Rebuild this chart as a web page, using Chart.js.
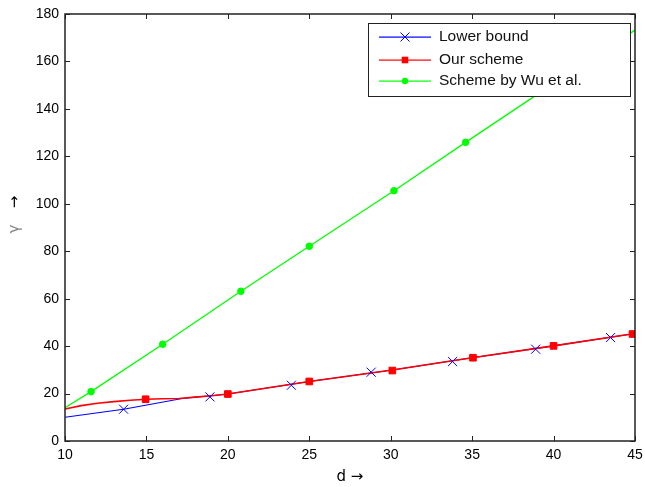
<!DOCTYPE html>
<html>
<head>
<meta charset="utf-8">
<script src="https://cdn.jsdelivr.net/npm/chart.js@4.4.1/dist/chart.umd.min.js"></script>
<style>
html,body{margin:0;padding:0;background:#fff;}
canvas{display:block;}
</style>
</head>
<body>
<canvas id="c" width="645" height="487"></canvas>
<script>
// ---- data ----
const seriesLabels = ['Lower bound', 'Our scheme', 'Scheme by Wu et al.'];
const xTickValues = [10, 15, 20, 25, 30, 35, 40, 45];
const yTickValues = [0, 20, 40, 60, 80, 100, 120, 140, 160, 180];
const xAxisTitle = 'd \u2192';
const yAxisSymbol = '\u03b3';
const yAxisArrow = '\u2192';

const lowerLineX = [10, 13.6, 17.2, 18, 19, 20, 25, 30, 35, 40, 45];
const lowerLineY = [10, 13.4, 17.9, 18.5, 19.1, 19.8, 25.1, 29.8, 35.1, 40.1, 45.3];
const lowerMarkX = [13.6, 18.9, 23.9, 28.8, 33.8, 38.9, 43.5];
const lowerMarkY = [13.4, 18.6, 23.5, 29.0, 33.5, 38.7, 43.6];

const oursLineX = [10, 11, 12, 13, 14, 15, 16, 17, 18, 19, 20, 25, 30, 35, 40, 45];
const oursLineY = [13.5, 14.9, 15.9, 16.6, 17.2, 17.6, 17.8, 17.9, 18.5, 19.1, 19.8, 25.1, 29.8, 35.1, 40.1, 45.3];
const oursMarkX = [14.95, 20, 25, 30.1, 35.05, 40, 44.85];
const oursMarkY = [17.6, 19.8, 25.1, 29.7, 35.1, 40.1, 45.1];

const wuLineX = [10, 11.6, 16, 20.8, 25, 30.2, 34.6, 39.3, 45];
const wuLineY = [14, 20.8, 40.8, 63.1, 82.1, 105.5, 125.9, 147.5, 173.2];
const wuMarkX = [11.6, 16, 20.8, 25, 30.2, 34.6, 39.3];
const wuMarkY = [20.8, 40.8, 63.1, 82.1, 105.5, 125.9, 147.5];

// ---- styling ----
const BLUE = '#0000ff', RED = '#ff0000', GREEN = '#00ff00';
const TICK_FONT = '"Liberation Sans", Arial, sans-serif';
const zip = (xs, ys) => xs.map((v, i) => ({x: v, y: ys[i]}));

function lineDs(label, xs, ys, color, width, order) {
  return {label, data: zip(xs, ys), borderColor: color, backgroundColor: color,
    borderWidth: width, pointRadius: 0, tension: 0, order, showLine: true};
}
function markDs(label, xs, ys, color, style, radius, order) {
  return {label, data: zip(xs, ys), borderColor: color, backgroundColor: color,
    showLine: false, pointStyle: style, pointRadius: radius, pointBorderWidth: 1,
    order};
}

const legendEntries = [
  {label: seriesLabels[0], color: BLUE, style: 'crossRot'},
  {label: seriesLabels[1], color: RED, style: 'rect'},
  {label: seriesLabels[2], color: GREEN, style: 'circle'}
];

function drawMarker(ctx, style, color, x, y) {
  ctx.save();
  ctx.strokeStyle = color; ctx.fillStyle = color; ctx.lineWidth = 1;
  if (style === 'crossRot') {
    ctx.beginPath();
    ctx.moveTo(x - 4.5, y - 4.5); ctx.lineTo(x + 4.5, y + 4.5);
    ctx.moveTo(x - 4.5, y + 4.5); ctx.lineTo(x + 4.5, y - 4.5);
    ctx.stroke();
  } else if (style === 'rect') {
    ctx.fillRect(x - 3.3, y - 3.3, 6.6, 6.6);
  } else {
    ctx.beginPath(); ctx.arc(x, y, 3.2, 0, Math.PI * 2); ctx.fill();
  }
  ctx.restore();
}

const framePlugin = {
  id: 'frame',
  afterDatasetsDraw(chart) {
    const {ctx, chartArea: a, scales: {x, y}} = chart;
    ctx.save();
    ctx.strokeStyle = '#222';
    ctx.lineWidth = 1;
    ctx.beginPath();
    x.ticks.forEach(t => {
      const px = Math.round(x.getPixelForValue(t.value)) + 0.5;
      ctx.moveTo(px, a.bottom); ctx.lineTo(px, a.bottom - 5);
      ctx.moveTo(px, a.top); ctx.lineTo(px, a.top + 5);
    });
    y.ticks.forEach(t => {
      const py = Math.round(y.getPixelForValue(t.value)) + 0.5;
      ctx.moveTo(a.left, py); ctx.lineTo(a.left + 5, py);
      ctx.moveTo(a.right, py); ctx.lineTo(a.right - 5, py);
    });
    ctx.stroke();
    ctx.lineWidth = 1.5;
    ctx.strokeRect(a.left, a.top, a.right - a.left, a.bottom - a.top);
    ctx.restore();
  },
  afterDraw(chart) {
    // y-axis title: grey gamma and black arrow, rotated
    const {ctx} = chart;
    ctx.save();
    ctx.translate(15, 0);
    ctx.rotate(-Math.PI / 2);
    ctx.textAlign = 'center';
    ctx.textBaseline = 'middle';
    ctx.font = '15px "DejaVu Sans", sans-serif';
    ctx.fillStyle = '#888';
    ctx.fillText(yAxisSymbol, -229, 0);
    ctx.fillStyle = '#000';
    ctx.fillText(yAxisArrow, -202, 0);
    ctx.restore();
  }
};

const boxLegendPlugin = {
  id: 'boxLegend',
  afterDraw(chart) {
    const {ctx, chartArea: a} = chart;
    const w = 262, h = 73;
    const left = Math.round(a.right - 5 - w), top = Math.round(a.top + 9);
    ctx.save();
    ctx.fillStyle = '#fff';
    ctx.fillRect(left, top, w, h);
    ctx.strokeStyle = '#222'; ctx.lineWidth = 1;
    ctx.strokeRect(left + 0.5, top + 0.5, w, h);
    ctx.font = '15.5px "Liberation Sans", Arial, sans-serif';
    ctx.textBaseline = 'middle';
    const rows = [top + 14, top + 36.5, top + 58];
    legendEntries.forEach((e, i) => {
      const yy = rows[i];
      ctx.fillStyle = e.color;
      ctx.fillRect(left + 11, Math.round(yy) - 0.5, 52, 1.2);
      drawMarker(ctx, e.style, e.color, left + 37, Math.round(yy));
      ctx.fillStyle = '#111';
      ctx.fillText(e.label, left + 71, yy);
    });
    ctx.restore();
  }
};

new Chart(document.getElementById('c'), {
  type: 'line',
  data: {
    datasets: [
      lineDs(seriesLabels[0], lowerLineX, lowerLineY, BLUE, 1.1, 6),
      lineDs(seriesLabels[1], oursLineX, oursLineY, RED, 1.6, 5),
      lineDs(seriesLabels[2], wuLineX, wuLineY, GREEN, 1.3, 4),
      markDs(seriesLabels[0], lowerMarkX, lowerMarkY, BLUE, 'crossRot', 6.4, 3),
      markDs(seriesLabels[1], oursMarkX, oursMarkY, RED, 'rect', 4.7, 2),
      markDs(seriesLabels[2], wuMarkX, wuMarkY, GREEN, 'circle', 3.3, 1)
    ]
  },
  options: {
    responsive: false,
    animation: false,
    devicePixelRatio: 1,
    layout: {padding: {top: 14, right: 10, left: 0, bottom: 0}},
    plugins: {legend: {display: false}, tooltip: {enabled: false}},
    scales: {
      x: {
        type: 'linear', min: 10, max: 45,
        afterBuildTicks: s => { s.ticks = xTickValues.map(v => ({value: v})); },
        ticks: {font: {size: 14, family: TICK_FONT}, color: '#000', padding: 6, maxRotation: 0},
        grid: {display: false, drawTicks: false, tickLength: 0}, border: {display: false},
        title: {display: true, text: xAxisTitle, color: '#000',
          font: {size: 15, family: '"DejaVu Sans", sans-serif'}, padding: {top: 0, bottom: 1}},
        afterFit: s => { s.height = 46; s.paddingLeft = 0; s.paddingRight = 0; }
      },
      y: {
        type: 'linear', min: 0, max: 180,
        afterBuildTicks: s => { s.ticks = yTickValues.map(v => ({value: v})); },
        ticks: {font: {size: 14, family: TICK_FONT}, color: '#000', padding: 6},
        grid: {display: false, drawTicks: false, tickLength: 0}, border: {display: false},
        title: {display: false},
        afterFit: s => { s.width = 65; s.paddingTop = 0; s.paddingBottom = 0; }
      }
    }
  },
  plugins: [framePlugin, boxLegendPlugin]
});
</script>
</body>
</html>
